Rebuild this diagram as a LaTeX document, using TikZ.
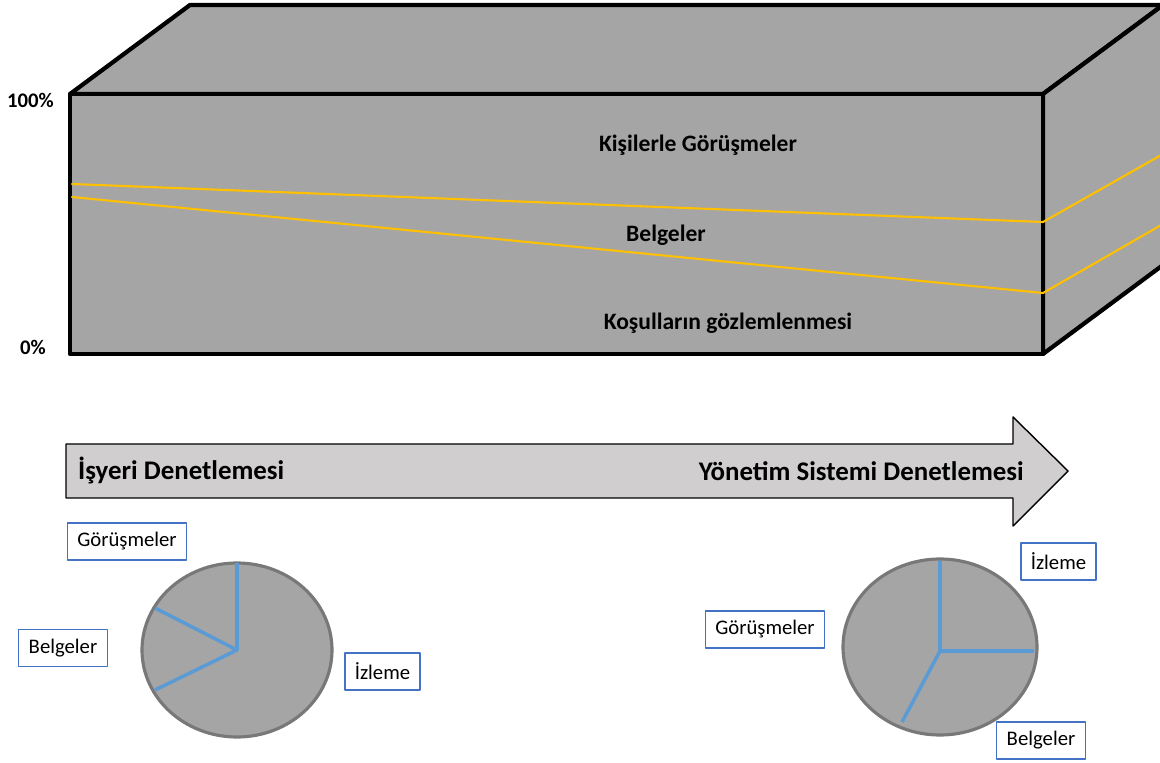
\documentclass[tikz,border=0pt]{standalone}
\usepackage{fontspec}
\setmainfont{Carlito}
\begin{document}
\begin{tikzpicture}[x=0.02cm, y=-0.02cm, line cap=round, line join=round]
  \definecolor{boxgray}{HTML}{A5A5A5}
  \definecolor{arrowgray}{HTML}{D0CECE}
  \definecolor{lineyellow}{HTML}{FFC000}
  \definecolor{pieblue}{HTML}{5B9BD5}
  \definecolor{pieedge}{HTML}{787878}
  \definecolor{tagblue}{HTML}{4472C4}
  \tikzset{
    tag/.style={draw=tagblue, line width=0.8pt, fill=white, inner xsep=0.2cm,
      minimum height=0.74cm, font=\fontsize{11.8}{14}\selectfont},
    layer/.style={font=\fontsize{13.4}{16}\selectfont\bfseries},
    pct/.style={font=\fontsize{11.8}{14}\selectfont\bfseries},
    stage/.style={font=\fontsize{15.3}{18}\selectfont\bfseries},
    slice/.style={pieblue, line width=2pt, line cap=butt},
    pie/.style={draw=pieedge, line width=1.8pt, fill=boxgray}
  }
  \useasboundingbox (0,0) rectangle (1160,763);
  \clip (0,0) rectangle (1160,763);
  % the block
  \coordinate (FTL) at (70,94);
  \coordinate (FTR) at (1043,94);
  \coordinate (FBR) at (1043,354);
  \coordinate (FBL) at (70,354);
  \coordinate (BTL) at (190,5);
  \coordinate (BTR) at (1163,5);
  \coordinate (BBR) at (1163,265);
  \draw[line width=2.4pt, fill=boxgray] (FTL)--(BTL)--(BTR)--(FTR)--cycle;
  \draw[line width=2.4pt, fill=boxgray] (FTR)--(BTR)--(BBR)--(FBR)--cycle;
  \draw[line width=2.4pt, fill=boxgray] (FTL) rectangle (FBR);
  \draw[lineyellow, line width=1.2pt] (72,184)--(1043,222)--(1163,154);
  \draw[lineyellow, line width=1.2pt] (72,197)--(1043,293)--(1163,224);
  \node[layer] (gorusme) at (698,145) {Kişilerle Görüşmeler};
  \node[layer] (belge) at (666,235) {Belgeler};
  \node[layer] (kosul) at (728,323) {Koşulların gözlemlenmesi};
  \node[pct, anchor=east] (ust) at (60,100) {100\%};
  \node[pct, anchor=east] (alt) at (52,347) {0\%};
  % the arrow
  \draw[fill=arrowgray, line width=0.8pt] (66,444)--(1013,444)--(1013,417)--(1068,471)
    --(1013,526)--(1013,498)--(66,498)--cycle;
  \node[stage, anchor=west] (isyeri) at (72,471) {İşyeri Denetlemesi};
  \node[stage, anchor=east] (yonetim) at (1030,471) {Yönetim Sistemi Denetlemesi};
  % left pie
  \coordinate (lpie) at (237,650);
  \draw[pie] (lpie) ellipse [x radius=95, y radius=87];
  \coordinate (l1) at (237,563);
  \coordinate (l2) at (155,608);
  \coordinate (l3) at (155,690);
  \draw[slice] (l1)--(lpie)--(l2);
  \draw[slice] (lpie)--(l3);
  \node[tag] (lgor) at (127,541.5) {Görüşmeler};
  \node[tag] (lbel) at (63,648) {Belgeler};
  \node[tag] (lizl) at (382.5,671.5) {İzleme};
  % right pie
  \coordinate (rpie) at (940,647);
  \coordinate (rc) at (940,651);
  \draw[pie] (rpie) ellipse [x radius=97, y radius=88];
  \coordinate (r1) at (940,561);
  \coordinate (r2) at (1034,651);
  \coordinate (r3) at (902,722);
  \draw[slice] (r1)--(rc)--(r2);
  \draw[slice] (rc)--(r3);
  \node[tag] (rizl) at (1058.5,561.5) {İzleme};
  \node[tag] (rgor) at (765,629.5) {Görüşmeler};
  \node[tag] (rbel) at (1041,740.5) {Belgeler};
\end{tikzpicture}
\end{document}
